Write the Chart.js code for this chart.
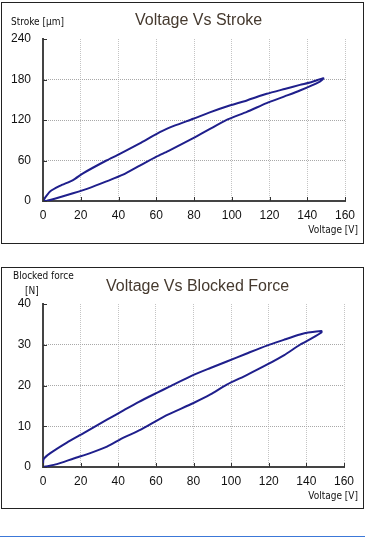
<!DOCTYPE html>
<html>
<head>
<meta charset="utf-8">
<script src="https://cdn.jsdelivr.net/npm/chart.js@4.4.1/dist/chart.umd.min.js"></script>
<style>
  html,body{margin:0;padding:0;background:#fff;}
  body{position:relative;width:365px;height:538px;overflow:hidden;font-family:"Liberation Sans",Arial,sans-serif;}
  .box{position:absolute;left:1px;width:361px;border:1px solid #222;box-sizing:content-box;}
  canvas{position:absolute;left:0;}
  .title{position:absolute;font-size:16px;color:#45392e;white-space:nowrap;}
  .ax{position:absolute;font-family:"DejaVu Sans Condensed","Liberation Sans",Arial,sans-serif;font-size:10px;color:#111;white-space:nowrap;line-height:12px;}
  .rule{position:absolute;left:0;top:536px;width:365px;height:1px;background:#3c78d8;}
</style>
</head>
<body>
<div class="box" style="top:2px;height:240px;"></div>
<div class="box" style="top:267px;height:240px;"></div>
<canvas id="c1" width="365" height="250" style="top:0px"></canvas>
<canvas id="c2" width="365" height="250" style="top:260px"></canvas>
<div class="title" style="left:135px;top:11px;">Voltage Vs Stroke</div>
<div class="ax" style="left:11px;top:16px;">Stroke [μm]</div>
<div class="ax" style="right:7px;top:224px;">Voltage [V]</div>
<div class="title" style="left:106px;top:277px;">Voltage Vs Blocked Force</div>
<div class="ax" style="left:13px;top:270px;">Blocked force</div>
<div class="ax" style="left:25px;top:285px;">[N]</div>
<div class="ax" style="right:7px;top:490px;">Voltage [V]</div>
<div class="rule"></div>
<script>
// ---- Data: Voltage vs Stroke (hysteresis loop: rising branch then falling branch)
const strokeVoltage = [0,1.8,7.1,15.9,24.8,33.6,42.4,51.3,60.1,66.3,79.6,88,97.3,108,118.5,128,136.1,146.7,148.5,
                       148.5,142,136.1,128,118.5,108,97.3,88,79.6,70,61.9,51.3,40.7,33.6,21.2,15.9,8.9,3.6,0.9,0];
const strokeValues  = [0,0,4,11.4,19.5,29,39,52.5,65.8,74,93,106,120.2,132,145,155,163.7,177,181,
                       182,176,172,166,158.8,149,140,131,121.8,112,102,85.5,69.8,60,41,31,22.3,13.8,4,0];
// ---- Data: Voltage vs Blocked Force
const forceVoltage = [0,1.2,7.4,16.3,25.1,34,42.8,51.7,60.5,66.7,80,89,97.7,108,119,128,136.6,143,148,
                      148,141,136.6,128,119,108,97.7,89,80,66.7,60.5,51,42.8,34,21.6,12.7,3.9,0.3,0];
const forceValues  = [0,0.1,0.7,2.1,3.4,5.0,7.2,9.1,11.4,12.9,15.7,17.8,20.2,22.5,25.1,27.4,30,31.6,33,
                      33.4,33,32.5,31.2,29.8,27.8,25.9,24.3,22.6,19.6,18.2,16.0,13.9,11.6,8.3,6,3.4,1.9,0];
const xTicks = [0,20,40,60,80,100,120,140,160];
const strokeTicks = [0,60,120,180,240];
const forceTicks = [0,10,20,30,40];

const LINE = '#1f1f8c';
const tickFont = {family:'"Liberation Sans",Arial,sans-serif', size:12};

const innerTicks = {
  id:'innerTicks',
  afterDraw(chart){
    const ctx = chart.ctx, a = chart.chartArea;
    const xs = chart.scales.x, ys = chart.scales.y;
    ctx.save();
    ctx.strokeStyle = '#333'; ctx.lineWidth = 1;
    ctx.beginPath();
    xs.ticks.forEach(t=>{ const p = Math.round(xs.getPixelForValue(t.value))+0.5; ctx.moveTo(p,a.bottom); ctx.lineTo(p,a.bottom-4); });
    ys.ticks.forEach(t=>{ const p = Math.round(ys.getPixelForValue(t.value))+0.5; ctx.moveTo(a.left,p); ctx.lineTo(a.left+4,p); });
    ctx.stroke();
    ctx.restore();
  }
};

function makeChart(id, xv, yv, yTicks, pad){
  const pts = xv.map((v,i)=>({x:v, y:yv[i]}));
  const ymax = yTicks[yTicks.length-1];
  return new Chart(document.getElementById(id), {
    type:'scatter',
    data:{datasets:[{data:pts, showLine:true, borderColor:LINE, backgroundColor:LINE,
      borderWidth:2, pointRadius:0, tension:0.2, fill:false}]},
    options:{
      responsive:false, animation:false,
      layout:{padding:pad},
      plugins:{legend:{display:false}, tooltip:{enabled:false}, title:{display:false}},
      scales:{
        x:{type:'linear', min:0, max:160,
          afterBuildTicks(s){ s.ticks = xTicks.map(v=>({value:v})); },
          afterFit(s){ s.height = 20; },
          ticks:{font:tickFont, color:'#111', padding:7, maxRotation:0},
          grid:{color:(c)=> c.tick && c.tick.value===0 ? 'rgba(0,0,0,0)' : '#c4c4c4', drawTicks:false, lineWidth:1},
          border:{display:true, color:'#444', width:2, dash:[1,1]}
        },
        y:{type:'linear', min:0, max:ymax,
          afterBuildTicks(s){ s.ticks = yTicks.map(v=>({value:v})); },
          afterFit(s){ s.width = 43; },
          ticks:{font:tickFont, color:'#111', padding:12},
          grid:{color:(c)=> (c.tick && (c.tick.value===0 || c.tick.value===ymax)) ? 'rgba(0,0,0,0)' : '#a8a8a8', drawTicks:false, lineWidth:1},
          border:{display:true, color:'#444', width:2, dash:[1,1]}
        }
      }
    },
    plugins:[innerTicks]
  });
}
makeChart('c1', strokeVoltage, strokeValues, strokeTicks, {left:0, right:20, top:39, bottom:29});
makeChart('c2', forceVoltage, forceValues, forceTicks, {left:0, right:21, top:44, bottom:23});
</script>
</body>
</html>
